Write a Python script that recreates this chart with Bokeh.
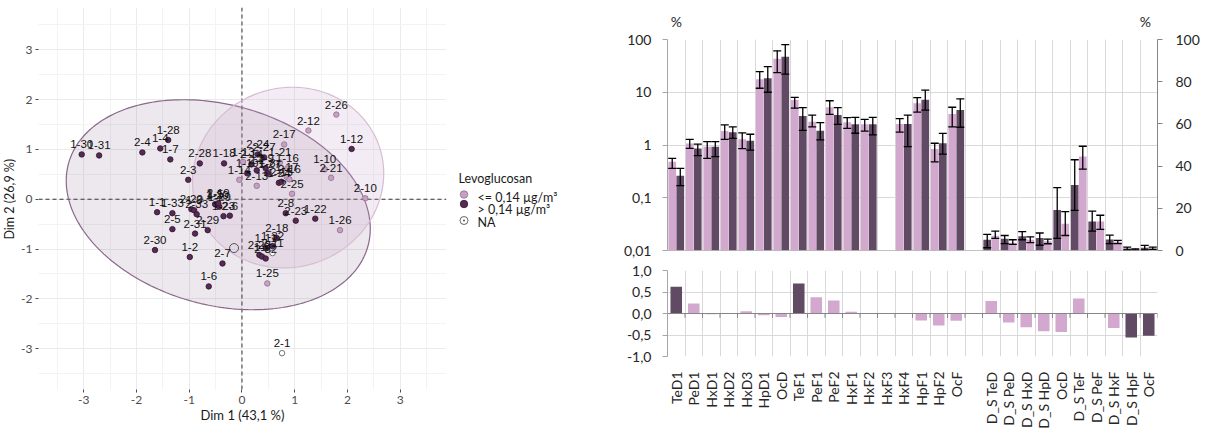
import math
import numpy as np
from bokeh.plotting import figure
from bokeh.layouts import row, column
from bokeh.models import (ColumnDataSource, Range1d, LinearAxis, LinearScale, FixedTicker, Grid,
                          Span, Whisker, TeeHead)
from bokeh.embed import file_html
from bokeh.resources import INLINE
from bokeh.core.properties import value

# ---------------- PCA individuals ----------------
dark_ids = ["1-30", "1-31", "2-4", "1-4", "1-28", "1-7", "2-28", "1-18", "2-3", "1-1",
            "1-33", "2-5", "2-31", "2-29", "2-30", "1-2", "1-6", "2-7", "2-20", "1-3",
            "2-33", "1-20", "1-29", "1-5", "2-19", "2-6", "1-23", "2-24", "2-27", "2-14",
            "1-19", "2-2", "2-9", "1-8", "1-24", "2-15", "2-8", "2-23", "1-22", "1-12",
            "2-18", "1-11", "1-32", "2-22", "1-9", "2-32"]
dark_x = [-3.04, -2.71, -1.89, -1.55, -1.40, -1.36, -0.80, -0.34, -1.02, -1.61,
          -1.32, -1.32, -0.89, -0.65, -1.65, -0.99, -0.63, -0.37, -0.96, -0.91,
          -0.86, -0.47, -0.43, -0.51, -0.45, -0.23, -0.35, 0.30, 0.42, 0.18,
          0.10, 0.28, 0.45, 0.48, 0.70, 0.75, 0.83, 1.02, 1.39, 2.08,
          0.66, 0.45, 0.58, 0.33, 0.38, 0.45]
dark_y = [0.90, 0.88, 0.94, 1.02, 1.19, 0.80, 0.72, 0.72, 0.39, -0.26,
          -0.28, -0.60, -0.69, -0.62, -1.02, -1.16, -1.75, -1.29, -0.20, -0.22,
          -0.30, -0.12, -0.15, -0.10, -0.08, -0.33, -0.34, 0.90, 0.84, 0.70,
          0.52, 0.58, 0.62, 0.52, 0.33, 0.35, -0.28, -0.43, -0.39, 1.01,
          -0.78, -0.98, -0.94, -1.12, -1.15, -1.19]

light_ids = ["1-13", "1-14", "2-13", "1-27", "1-21", "1-16", "1-17", "2-16", "2-25", "2-17",
             "2-12", "2-26", "1-10", "2-21", "2-10", "1-26", "1-25"]
light_x = [0.02, -0.05, 0.28, 0.52, 0.72, 0.86, 0.85, 0.90, 0.95, 0.80,
           1.26, 1.79, 1.57, 1.69, 2.34, 1.86, 0.48]
light_y = [0.75, 0.39, 0.27, 0.50, 0.74, 0.62, 0.45, 0.40, 0.11, 1.10,
           1.38, 1.70, 0.60, 0.43, 0.02, -0.62, -1.69]

na_ids = ["2-1", "2-11"]
na_x = [0.76, 0.58]
na_y = [-3.09, -1.08]

na_centroid_x = [-0.15]
na_centroid_y = [-0.98]

# concentration ellipses: centre, semi-axes, angle (deg)
ell_dark = dict(cx=-0.45, cy=-0.11, a=2.96, b=2.00, angle=-17.8)
ell_light = dict(cx=0.875, cy=0.435, a=1.855, b=1.772, angle=45.0)

legend_title = "Levoglucosan"
legend_labels = ["<= 0,14 µg/m³", "> 0,14 µg/m³", "NA"]

# ---------------- Bar chart data ----------------
cats = ["TeD1", "PeD1", "HxD1", "HxD2", "HxD3", "HpD1", "OcD", "TeF1", "PeF1", "PeF2",
        "HxF1", "HxF2", "HxF3", "HxF4", "HpF1", "HpF2", "OcF"]
low_mean = [0.48, 1.07, 0.93, 1.84, 1.28, 17.6, 43.0, 7.1, 2.77, 5.2, 2.7, 2.47, None, 2.5, 6.2, 0.84, 3.87]
low_lo = [0.36, 0.86, 0.56, 1.28, 0.85, 11.9, 23.6, 5.0, 2.2, 3.8, 2.07, 1.84, None, 1.76, 4.2, 0.48, 2.2]
low_hi = [0.56, 1.28, 1.16, 2.4, 1.7, 24.6, 61.0, 8.0, 3.7, 6.9, 3.3, 3.07, None, 3.16, 7.9, 1.08, 5.2]
high_mean = [0.26, 0.86, 0.93, 1.74, 1.2, 18.4, 47.0, 3.55, 1.87, 3.7, 2.47, 2.47, None, 2.5, 7.2, 1.08, 4.6]
high_lo = [0.17, 0.63, 0.60, 1.34, 0.8, 10.0, 22.0, 1.9, 1.25, 2.45, 1.67, 1.55, None, 0.93, 4.6, 0.67, 2.17]
high_hi = [0.36, 1.04, 1.16, 2.2, 1.6, 30.5, 80.0, 5.1, 2.65, 5.1, 3.35, 3.35, None, 3.7, 11.0, 1.66, 7.5]

ds_cats = ["D_S TeD", "D_S PeD", "D_S HxD", "D_S HpD", "OcD", "D_S TeF", "D_S PeF", "D_S HxF", "D_S HpF", "OcF"]
ds_high_mean = [5.1, 5.6, 6.7, 5.9, 19.2, 31.1, 13.8, 5.2, 1.0, 1.3]
ds_high_lo = [1.3, 3.3, 5.1, 2.5, 5.7, 19.0, 9.2, 3.3, 0.3, 0.3]
ds_high_hi = [7.6, 7.1, 8.9, 8.3, 29.8, 43.0, 18.7, 7.3, 1.6, 2.4]
ds_low_mean = [7.0, 3.7, 5.1, 4.4, 12.7, 44.6, 13.8, 4.1, 0.5, 1.0]
ds_low_lo = [5.7, 2.9, 3.7, 3.2, 7.1, 38.6, 10.0, 3.3, 0.3, 0.5]
ds_low_hi = [9.2, 5.1, 6.5, 5.4, 18.4, 49.4, 16.7, 4.8, 0.8, 1.6]

corr = [0.62, 0.23, -0.02, 0.01, 0.05, -0.04, -0.08, 0.70, 0.38, 0.30, 0.04, 0.01, 0.0, 0.0, -0.16, -0.28, -0.17]
ds_corr = [0.29, -0.21, -0.32, -0.41, -0.43, 0.35, 0.0, -0.34, -0.56, -0.52]

left_ticks = [0.01, 0.1, 1, 10, 100]
left_tick_labels = ["0,01", "0,1", "1", "10", "100"]
right_ticks = [0, 20, 40, 60, 80, 100]
corr_ticks = [-1.0, -0.5, 0.0, 0.5, 1.0]
corr_tick_labels = ["-1,0", "-0,5", "0,0", "0,5", "1,0"]

# ---------------- colours ----------------
DARK_PT, DARK_PT_LINE = "#552a55", "#2e142e"
LIGHT_PT, LIGHT_PT_LINE = "#c7a1c4", "#8e6f8c"
NA_LINE = "#555555"
LIGHT_BAR, DARK_BAR = "#d3a8cf", "#614a63"
GRID = "#d9d9d9"
TXT = "#262626"

H = 431
PCA_TOP, PCA_BOTTOM = 7, 42          # borders around the PCA panel (px)


def blank(fig):
    fig.outline_line_color = None
    fig.grid.visible = False
    return fig


# ======================= y-axis title strip =======================
ylab = blank(figure(width=16, height=H, x_range=Range1d(0, 16), y_range=Range1d(H - PCA_BOTTOM, PCA_TOP),
                    x_axis_location=None, y_axis_location=None, output_backend="svg", toolbar_location=None,
                    title=None, min_border_left=0, min_border_right=0,
                    min_border_top=PCA_TOP, min_border_bottom=PCA_BOTTOM))
ylab.text(x=[8.5], y=[198.7], text=["Dim 2 (26,9 %)"], angle=math.pi / 2, text_font=value("Lato"),
          text_font_size="12.5px", text_color="#1a1a1a", text_align="center", text_baseline="middle")

# ======================= LEFT: PCA =======================
left = figure(width=432, height=H, x_range=Range1d(-3.86, 3.88), y_range=Range1d(-3.82, 3.85),
              output_backend="svg", toolbar_location=None, title=None,
              min_border_left=22, min_border_right=2, min_border_top=PCA_TOP, min_border_bottom=PCA_BOTTOM)
left.outline_line_color = None
int_ticks = [-3, -2, -1, 0, 1, 2, 3]
half_ticks = [-3.5, -2.5, -1.5, -0.5, 0.5, 1.5, 2.5, 3.5]
for ax in (left.xaxis[0], left.yaxis[0]):
    ax.ticker = FixedTicker(ticks=int_ticks, minor_ticks=half_ticks)
    ax.major_label_overrides = {t: str(t) for t in int_ticks}
    ax.axis_line_color = None
    ax.major_tick_line_color = "#4d4d4d"
    ax.major_tick_out = 3
    ax.major_tick_in = 0
    ax.minor_tick_line_color = None
    ax.major_label_text_color = "#4d4d4d"
    ax.major_label_text_font = "Lato"
    ax.major_label_text_font_size = "12px"
    ax.major_label_standoff = 2
left.xaxis[0].axis_label = "Dim 1 (43,1 %)"
left.xaxis[0].axis_label_text_font = "Lato"
left.xaxis[0].axis_label_text_font_size = "13px"
left.xaxis[0].axis_label_text_font_style = "normal"
left.xaxis[0].axis_label_text_color = "#1a1a1a"
left.xaxis[0].axis_label_standoff = 0
left.grid.grid_line_color = "#ebebeb"
left.grid.grid_line_width = 1
left.grid.minor_grid_line_color = "#f3f3f3"
left.grid.minor_grid_line_width = 1

for dim in ("height", "width"):
    left.add_layout(Span(location=0, dimension=dim, line_color="#333333", line_dash="4 3",
                         line_width=1, level="underlay"))


def ellipse_xy(p):
    t = np.linspace(0, 2 * np.pi, 240)
    th = math.radians(p["angle"])
    ex = p["cx"] + p["a"] * np.cos(t) * math.cos(th) - p["b"] * np.sin(t) * math.sin(th)
    ey = p["cy"] + p["a"] * np.cos(t) * math.sin(th) + p["b"] * np.sin(t) * math.cos(th)
    return ex, ey


ex, ey = ellipse_xy(ell_dark)
left.patch(ex, ey, fill_color="#6b3e6b", fill_alpha=0.12, line_color="#8a678a", line_width=1.2)
ex, ey = ellipse_xy(ell_light)
left.patch(ex, ey, fill_color="#c9a1c6", fill_alpha=0.2, line_color="#d6bcd4", line_width=1.2)

left.scatter(light_x, light_y, size=5.5, fill_color=LIGHT_PT, line_color=LIGHT_PT_LINE, line_width=0.8)
left.scatter(dark_x, dark_y, size=5.5, fill_color=DARK_PT, line_color=DARK_PT_LINE, line_width=0.8)
left.scatter(na_x, na_y, size=5.5, fill_color="white", line_color=NA_LINE, line_width=0.8)
left.scatter(na_centroid_x, na_centroid_y, size=9, fill_color=None, line_color=NA_LINE, line_width=1)

all_ids = dark_ids + light_ids + na_ids
all_x = dark_x + light_x + na_x
all_y = dark_y + light_y + na_y
left.text(x=all_x, y=all_y, text=all_ids, text_font=value("Liberation Sans"), text_font_size="11.5px",
          text_color="#111111", text_align="center", text_baseline="middle", y_offset=-10)

# ---------------- legend strip (page-pixel coordinates) ----------------
leg = blank(figure(width=160, height=H, x_range=Range1d(448, 608), y_range=Range1d(H - PCA_BOTTOM, PCA_TOP),
                   x_axis_location=None, y_axis_location=None, output_backend="svg", toolbar_location=None,
                   title=None, min_border_left=0, min_border_right=0,
                   min_border_top=PCA_TOP, min_border_bottom=PCA_BOTTOM))
leg.text(x=[458], y=[178], text=[legend_title], text_font=value("Lato"), text_font_size="12.5px",
         text_color="#1a1a1a", text_baseline="middle")
key_y = [194, 203.5, 220]
lab_y = [196.5, 208.5, 221.5]
leg.scatter([463.5, 463.5], key_y[:2], size=7.5, fill_color=[LIGHT_PT, DARK_PT],
            line_color=[LIGHT_PT_LINE, DARK_PT_LINE], line_width=0.8)
leg.scatter([463.5], key_y[2:], marker="circle_dot", size=8, fill_color="white", line_color=NA_LINE,
            line_width=0.9)
leg.text(x=[477, 477, 477], y=lab_y, text=legend_labels, text_font=value("Lato"), text_font_size="12.5px",
         text_color="#1a1a1a", text_baseline="middle")

# ======================= RIGHT header (the two "%" units) =======================
RB_L, RB_R = 59, 51
hdr = blank(figure(width=600, height=30, x_range=Range1d(0, 28), y_range=Range1d(30, 0),
                   x_axis_location=None, y_axis_location=None, output_backend="svg", toolbar_location=None,
                   title=None, min_border_left=RB_L, min_border_right=RB_R, min_border_top=0, min_border_bottom=0))
hdr.text(x=[0.5, 27.3], y=[21, 21], text=["%", "%"], text_font=value("Lato"), text_font_size="14px",
         text_color=TXT, text_align="center", text_baseline="middle")

# ======================= RIGHT TOP: bars =======================
top = figure(width=600, height=230, x_range=Range1d(0, 28), y_range=Range1d(0.01, 100),
             y_axis_type="log", x_axis_location=None, output_backend="svg", toolbar_location=None, title=None,
             min_border_left=RB_L, min_border_right=RB_R, min_border_top=9, min_border_bottom=10)
top.outline_line_color = None
top.extra_y_ranges = {"lin": Range1d(0, 100)}
top.extra_y_scales = {"lin": LinearScale()}

lax = top.yaxis[0]
lax.ticker = FixedTicker(ticks=left_ticks)
lax.major_label_overrides = dict(zip(left_ticks, left_tick_labels))
rax = LinearAxis(y_range_name="lin", ticker=FixedTicker(ticks=right_ticks))
top.add_layout(rax, "right")
for ax in (lax, rax):
    ax.axis_line_color = "#a6a6a6"
    ax.major_tick_line_color = "#a6a6a6"
    ax.major_tick_out = 5
    ax.major_tick_in = 0
    ax.minor_tick_line_color = None
    ax.major_label_text_font = "Lato"
    ax.major_label_text_font_size = "14px"
    ax.major_label_text_color = TXT
    ax.major_label_standoff = 11
rax.axis_line_color = "#868686"
rax.major_tick_line_color = "#868686"
rax.major_label_standoff = 13

top.ygrid.grid_line_color = GRID
top.add_layout(Grid(dimension=0, ticker=FixedTicker(ticks=list(range(29))), grid_line_color=GRID))
top.add_layout(Span(location=0.01, dimension="width", line_color="#868686", line_width=1.2))

idx = [i for i in range(len(cats)) if low_mean[i] is not None]
src_lo = ColumnDataSource(dict(x=[i + 0.27 for i in idx], top=[low_mean[i] for i in idx],
                               lo=[low_lo[i] for i in idx], hi=[low_hi[i] for i in idx]))
src_hi = ColumnDataSource(dict(x=[i + 0.73 for i in idx], top=[high_mean[i] for i in idx],
                               lo=[high_lo[i] for i in idx], hi=[high_hi[i] for i in idx]))
off = len(cats) + 1
src_ds_hi = ColumnDataSource(dict(x=[off + j + 0.27 for j in range(len(ds_cats))], top=ds_high_mean,
                                  lo=ds_high_lo, hi=ds_high_hi))
src_ds_lo = ColumnDataSource(dict(x=[off + j + 0.73 for j in range(len(ds_cats))], top=ds_low_mean,
                                  lo=ds_low_lo, hi=ds_low_hi))

top.vbar(x="x", top="top", bottom=0.01, width=0.44, source=src_lo, fill_color=LIGHT_BAR, line_color=None)
top.vbar(x="x", top="top", bottom=0.01, width=0.44, source=src_hi, fill_color=DARK_BAR, line_color=None)
top.vbar(x="x", top="top", bottom=0, width=0.44, source=src_ds_hi, fill_color=DARK_BAR, line_color=None,
         y_range_name="lin")
top.vbar(x="x", top="top", bottom=0, width=0.44, source=src_ds_lo, fill_color=LIGHT_BAR, line_color=None,
         y_range_name="lin")

for src, rng in ((src_lo, "default"), (src_hi, "default"), (src_ds_hi, "lin"), (src_ds_lo, "lin")):
    w = Whisker(source=src, base="x", upper="hi", lower="lo", line_color="black", line_width=1.3,
                upper_head=TeeHead(size=8, line_color="black", line_width=1.3),
                lower_head=TeeHead(size=8, line_color="black", line_width=1.3),
                level="annotation")
    if rng == "lin":
        w.y_range_name = "lin"
    top.add_layout(w)

# ======================= RIGHT BOTTOM: correlations =======================
bot = figure(width=600, height=171, x_range=Range1d(0, 28), y_range=Range1d(-1, 1),
             output_backend="svg", toolbar_location=None, title=None,
             min_border_left=RB_L, min_border_right=RB_R, min_border_top=10, min_border_bottom=75)
bot.outline_line_color = None
slot_labels = cats + [""] + ds_cats
centers = [i + 0.5 for i in range(len(slot_labels))]
bx = bot.xaxis[0]
bx.ticker = FixedTicker(ticks=centers)
bx.major_label_overrides = dict(zip(centers, slot_labels))
bx.major_label_orientation = math.pi / 2
bx.axis_line_color = None
bx.major_tick_line_color = None
bx.minor_tick_line_color = None
bx.major_label_standoff = 9
bx.major_label_text_font = "Lato"
bx.major_label_text_font_size = "14px"
bx.major_label_text_color = TXT
by = bot.yaxis[0]
by.ticker = FixedTicker(ticks=corr_ticks)
by.major_label_overrides = dict(zip(corr_ticks, corr_tick_labels))
by.axis_line_color = "#a6a6a6"
by.major_tick_line_color = "#a6a6a6"
by.major_tick_out = 5
by.major_tick_in = 0
by.minor_tick_line_color = None
by.major_label_standoff = 11
by.major_label_text_font = "Lato"
by.major_label_text_font_size = "14px"
by.major_label_text_color = TXT
bot.xgrid.visible = False
bot.ygrid.grid_line_color = GRID
bot.add_layout(Grid(dimension=0, ticker=FixedTicker(ticks=list(range(29))), grid_line_color=GRID))

all_corr = corr + [None] + ds_corr
cx_ = [centers[i] for i in range(len(all_corr)) if all_corr[i] is not None]
cv_ = [v for v in all_corr if v is not None]
ccol = [DARK_BAR if abs(v) >= 0.5 else LIGHT_BAR for v in cv_]
bot.vbar(x=cx_, top=cv_, bottom=0, width=0.66, fill_color=ccol, line_color=None)
bot.add_layout(Span(location=0, dimension="width", line_color="#868686", line_width=1.2))
bounds = list(range(29))
bot.segment(x0=bounds, y0=[0] * 29, x1=bounds, y1=[-0.1] * 29, line_color="#868686", line_width=1)

layout = row(ylab, left, leg, column(hdr, top, bot))
open("out.html", "w").write(file_html(layout, INLINE))
